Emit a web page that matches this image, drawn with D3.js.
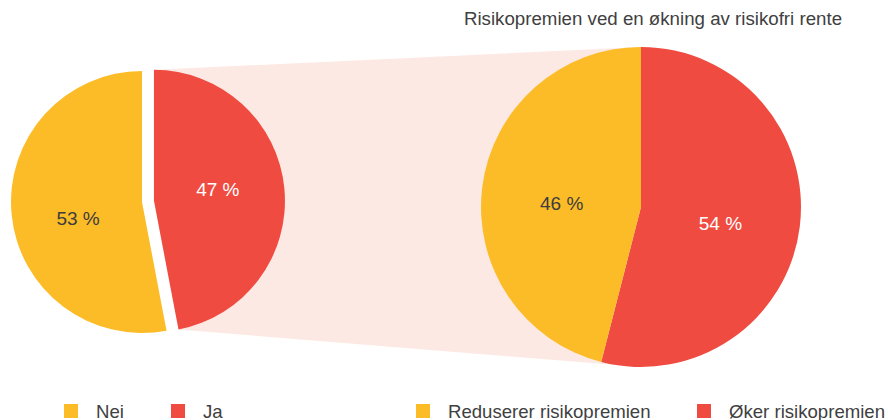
<!DOCTYPE html>
<html lang="no">
	<head>
		<meta charset="utf-8">
		<title>Risikopremien</title>
		<script type="text/javascript" src="https://cdn.jsdelivr.net/npm/d3@7"></script>
		<style type="text/css">
			body { margin: 0; background: #fff; }
			text { font-family: "Liberation Sans", Arial, sans-serif; }
		</style>
	</head>
	<body>
		<script type="text/javascript">

			//Data
			var leftCategories = ["Ja", "Nei"];
			var leftValues = [47, 53];
			var rightCategories = ["Øker risikopremien", "Reduserer risikopremien"];
			var rightValues = [54, 46];
			var rightTitle = "Risikopremien ved en økning av risikofri rente";
			var legendLeft = ["Nei", "Ja"];
			var legendRight = ["Reduserer risikopremien", "Øker risikopremien"];

			var w = 888;
			var h = 420;
			var yellow = "#fcbc28";
			var red = "#ef4b41";
			var band = "#fde9e3";

			var colorOf = {
				"Nei": yellow, "Ja": red,
				"Reduserer risikopremien": yellow, "Øker risikopremien": red
			};

			var svg = d3.select("body")
						.append("svg")
						.attr("width", w)
						.attr("height", h);

			var pie = d3.pie().sort(null).value(function(d) { return d.v; });

			//Left pie
			var lx = 142, ly = 202, lr = 131, explode = 12;
			var leftData = pie(leftCategories.map(function(c, i) { return {c: c, v: leftValues[i]}; }));
			var leftArc = d3.arc().innerRadius(0).outerRadius(lr);

			//Right pie
			var rx = 641, ry = 207, rr = 160;
			var rightData = pie(rightCategories.map(function(c, i) { return {c: c, v: rightValues[i]}; }));
			var rightArc = d3.arc().innerRadius(0).outerRadius(rr);

			function offsetOf(d) {
				var m = (d.startAngle + d.endAngle) / 2;
				return [Math.sin(m) * explode, -Math.cos(m) * explode];
			}

			//Connector band from the exploded slice to the right pie
			var ja = leftData[0];
			var o = offsetOf(ja);
			var p1 = [lx + o[0] + lr * Math.sin(ja.startAngle), ly + o[1] - lr * Math.cos(ja.startAngle)];
			var p4 = [lx + o[0] + lr * Math.sin(ja.endAngle), ly + o[1] - lr * Math.cos(ja.endAngle)];
			svg.append("polygon")
			   .attr("points", [p1, [rx, ry - rr], [rx, ry + rr], p4].map(function(p) { return p.join(","); }).join(" "))
			   .attr("fill", band);

			var lg = svg.append("g").attr("transform", "translate(" + lx + "," + ly + ")");
			lg.selectAll("path")
			  .data(leftData)
			  .enter()
			  .append("path")
			  .attr("d", leftArc)
			  .attr("transform", function(d, i) {
			  	var off = i === 0 ? offsetOf(d) : [0, 0];
			  	return "translate(" + off[0] + "," + off[1] + ")";
			  })
			  .attr("fill", function(d) { return colorOf[d.data.c]; });

			var leftLabel = d3.arc().innerRadius(lr * 0.49).outerRadius(lr * 0.49);
			lg.selectAll("text")
			  .data(leftData)
			  .enter()
			  .append("text")
			  .attr("transform", function(d, i) {
			  	var c = leftLabel.centroid(d);
			  	var off = i === 0 ? offsetOf(d) : [0, 0];
			  	return "translate(" + (c[0] + off[0]) + "," + (c[1] + off[1]) + ")";
			  })
			  .attr("text-anchor", "middle")
			  .attr("dy", function(d, i) { return i === 0 ? "1px" : "17px"; })
			  .attr("font-size", "19px")
			  .attr("fill", function(d) { return d.data.c === "Ja" ? "#fff" : "#3c3c3c"; })
			  .text(function(d) { return d.data.v + " %"; });

			var rightArcLabel = d3.arc().innerRadius(rr * 0.5).outerRadius(rr * 0.5);
			var rg = svg.append("g").attr("transform", "translate(" + rx + "," + ry + ")");
			rg.selectAll("path")
			  .data(rightData)
			  .enter()
			  .append("path")
			  .attr("d", rightArc)
			  .attr("fill", function(d) { return colorOf[d.data.c]; });

			rg.selectAll("text")
			  .data(rightData)
			  .enter()
			  .append("text")
			  .attr("transform", function(d) {
			  	var c = rightArcLabel.centroid(d);
			  	return "translate(" + c[0] + "," + c[1] + ")";
			  })
			  .attr("text-anchor", "middle")
			  .attr("dy", "13px")
			  .attr("font-size", "19px")
			  .attr("fill", function(d) { return d.data.c === "Øker risikopremien" ? "#fff" : "#3c3c3c"; })
			  .text(function(d) { return d.data.v + " %"; });

			//Title
			svg.append("text")
			   .attr("x", 653)
			   .attr("y", 25)
			   .attr("text-anchor", "middle")
			   .attr("font-size", "18.7px")
			   .attr("fill", "#404040")
			   .text(rightTitle);

			//Legends
			function legend(items, xs) {
				var g = svg.selectAll(null)
						   .data(items)
						   .enter()
						   .append("g")
						   .attr("transform", function(d, i) { return "translate(" + xs[i] + ",404)"; });
				g.append("rect")
				 .attr("width", 14)
				 .attr("height", 14)
				 .attr("fill", function(d) { return colorOf[d]; });
				g.append("text")
				 .attr("x", 32)
				 .attr("y", 13.5)
				 .attr("font-size", "18.6px")
				 .attr("fill", "#404040")
				 .text(function(d) { return d; });
			}
			legend(legendLeft, [64, 171]);
			legend(legendRight, [416, 697]);

		</script>
	</body>
</html>
